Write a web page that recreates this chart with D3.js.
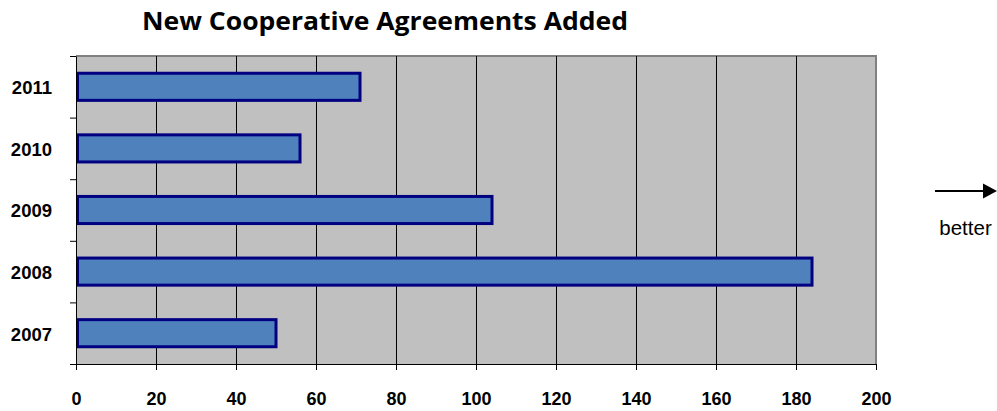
<!DOCTYPE html>
<html><head><meta charset="utf-8">
<script src="https://cdn.jsdelivr.net/npm/d3@7"></script>
<style>body{margin:0;background:#fff}svg{display:block}</style>
</head><body>
<svg id="c" width="997" height="411"></svg>
<script>
const categories = ["2011","2010","2009","2008","2007"];
const values = [71, 56, 104, 184, 50];
const xTicks = [0,20,40,60,80,100,120,140,160,180,200];
const title = "New Cooperative Agreements Added";
const arrowLabel = "better";

const svg = d3.select("#c");
const L = 76, R = 876, T = 56, B = 364;
const x = d3.scaleLinear().domain([0,200]).range([L,R]);
const y = d3.scaleBand().domain(categories).range([T,B]).paddingInner(0.56).paddingOuter(0.28);
const yb = d3.scaleBand().domain(categories).range([T,B]);
const font = "'Liberation Sans',Arial,sans-serif";

svg.append("rect").attr("x",L).attr("y",T).attr("width",R-L).attr("height",B-T).attr("fill","#c0c0c0");
svg.append("path").attr("d",`M${L},${T}H${R}V${B}`).attr("fill","none").attr("stroke","#808080").attr("stroke-width",2);

// gridlines
svg.append("g").selectAll("line").data(xTicks.filter(d=>d>0&&d<200)).join("line")
  .attr("x1",d=>x(d)+0.5).attr("x2",d=>x(d)+0.5).attr("y1",T).attr("y2",B).attr("stroke","#000").attr("stroke-width",1);

// bars
svg.append("g").selectAll("rect").data(values).join("rect")
  .attr("x",x(0)+1.5).attr("y",(d,i)=>y(categories[i]))
  .attr("width",d=>x(d)-x(0)-1.5).attr("height",y.bandwidth())
  .attr("fill","#4f81bd").attr("stroke","#000080").attr("stroke-width",3);

// x axis
const xa = svg.append("g").attr("transform",`translate(0,${B})`)
  .call(d3.axisBottom(x).tickValues(xTicks).tickSize(6).tickPadding(22).tickFormat(d3.format("d")));
xa.attr("font-size",null).attr("font-family",null);
xa.select(".domain").attr("stroke","#000");
xa.selectAll("line").attr("stroke","#000");
xa.selectAll("text").style("font-family",font).style("font-weight","bold").style("font-size","18px").attr("fill","#000");

// y axis
const ya = svg.append("g").attr("transform",`translate(${L},0)`)
  .call(d3.axisLeft(yb).tickSize(0).tickPadding(24));
ya.attr("font-size",null).attr("font-family",null);
ya.select(".domain").attr("stroke","#000");
ya.selectAll("text").attr("dy","0.4em").style("font-family",font).style("font-weight","bold").style("font-size","18.5px").attr("fill","#000");
const bounds = [T].concat(categories.map(c=>yb(c)+yb.bandwidth()));
ya.append("g").selectAll("line").data(bounds).join("line")
  .attr("x1",-6).attr("x2",0).attr("y1",d=>d+0.5).attr("y2",d=>d+0.5).attr("stroke","#000");

// title
svg.append("text").attr("x",142).attr("y",30)
  .attr("textLength",486).attr("lengthAdjust","spacingAndGlyphs")
  .style("font-family","'Open Sans',sans-serif").style("font-weight","bold").style("font-size","25.5px").attr("fill","#000").text(title);

// arrow
svg.append("line").attr("x1",935).attr("x2",990).attr("y1",191).attr("y2",191).attr("stroke","#000").attr("stroke-width",2);
svg.append("path").attr("d","M983,183.5L997,191L983,198.5Z").attr("fill","#000");
svg.append("text").attr("x",965.5).attr("y",235).attr("text-anchor","middle")
  .style("font-family",font).style("font-size","20.5px").attr("fill","#000").text(arrowLabel);
</script>
</body></html>
